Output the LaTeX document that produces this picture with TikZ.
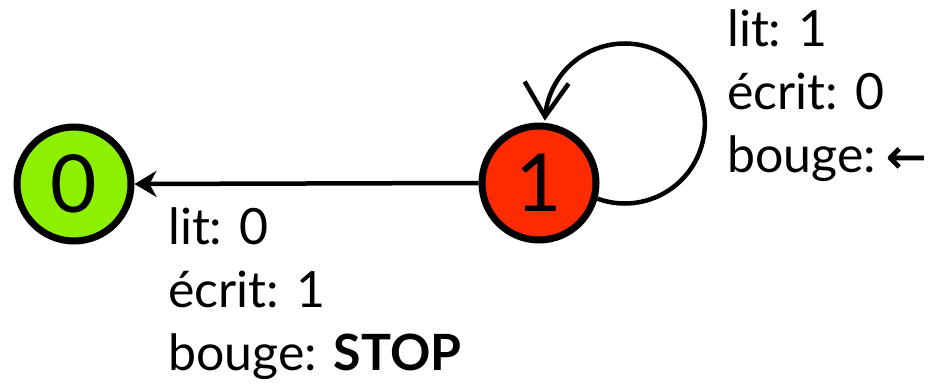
\documentclass[tikz,border=0pt]{standalone}
\usepackage{fontspec}
\setmainfont{Lato}
\newfontfamily\arrowfont[FakeBold=1.5]{DejaVu Sans}
\usetikzlibrary{arrows.meta,bending}
\definecolor{stgreen}{RGB}{140,240,0}
\definecolor{stred}{RGB}{255,43,0}
\tikzset{
  state/.style={circle, draw=black, line width=7pt, minimum size=114pt, inner sep=0pt,
    font=\fontsize{80}{80}\selectfont},
  lbl/.style={anchor=base west, inner sep=0pt, font=\fontsize{50}{63}\selectfont},
  trans/.style={line width=4.5pt},
}
\begin{document}
\begin{tikzpicture}[x=1pt,y=1pt]
\useasboundingbox (0,0) rectangle (931,383);
\node[state, fill=stgreen] (n0) at (74,199) {0};
\node[state, fill=stred] (n1) at (539,200) {1};
\draw[trans, -{Stealth[length=22pt,width=26pt,inset=7pt]}] (n1.west) -- (n0.east);
\draw[trans, -{Straight Barb[length=34pt,width=44pt,line width=4.5pt,flex]}] (n1.-15) arc[start angle=250, end angle=538, radius=80];
\node[lbl] (a1) at (727,336) {lit: 1};
\node[lbl] (a2) at (727,273) {écrit: 0};
\node[lbl] (a3) at (727,210) {bouge:\hspace{10pt}{\arrowfont\fontsize{48}{63}\selectfont ←}};
\node[lbl] (b1) at (168,138) {lit: 0};
\node[lbl] (b2) at (168,76) {écrit: 1};
\node[lbl] (b3) at (168,13) {bouge: \textbf{STOP}};
\end{tikzpicture}
\end{document}
